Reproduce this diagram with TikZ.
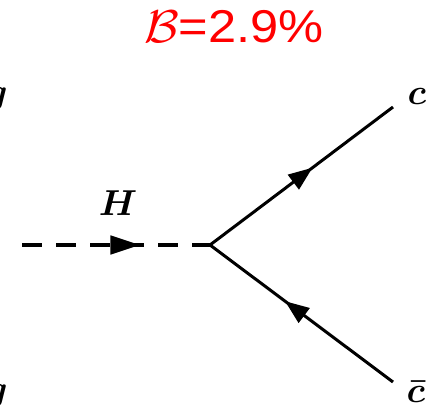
\documentclass[tikz,border=0pt]{standalone}
\usepackage{amsmath,amssymb}
\usepackage{fontspec}
\setsansfont{Liberation Sans}
\usetikzlibrary{arrows.meta, decorations.markings}

% big bold italic label
\newcommand{\biglbl}[1]{\scalebox{1.45}{$\boldsymbol{#1}$}}

\begin{document}
\begin{tikzpicture}[x=1pt, y=-1pt, line width=3pt,
  fermion/.style={decoration={markings, mark=at position #1 with {\arrow{Triangle[length=24pt, width=18pt]}}}, postaction={decorate}},
  higgs/.style={line width=4.5pt, dash pattern=on 20pt off 14pt, decoration={markings, mark=at position #1 with {\arrow{Triangle[length=30pt, width=18pt]}}}, postaction={decorate}},
  lbl/.style={font=\Huge, inner sep=0pt}]

% Frame
\useasboundingbox (0,0) rectangle (432,420);

% Title
\node[font=\sffamily\fontsize{46}{50}\selectfont, text=red, xscale=1.1] (br) at (234,27) {\scalebox{1.85}{$\mathcal{B}$}=2.9\%};

% =========== Vertex and end points ===========
\coordinate (hin) at (22,245);
\coordinate (vtx) at (210,245);
\coordinate (cq) at (393,107);
\coordinate (cqbar) at (393,382);

% Higgs line
\draw[higgs=0.63] (hin) -- (vtx);
\node[lbl] (hlbl) at (118,203) {\biglbl{H}};

% Quark c
\draw[fermion=0.56] (vtx) -- (cq);
\node[lbl] (clbl) at (417,96) {\biglbl{c}};

% Antiquark c bar
\draw[fermion=0.59] (cqbar) -- (vtx);
\node[lbl] (cbarlbl) at (416,392) {\biglbl{\bar{c}}};

% Gluons (cut at the left edge)
\node[lbl] (g1) at (-3,99) {\biglbl{g}};
\node[lbl] (g2) at (-3,396) {\biglbl{g}};

\end{tikzpicture}
\end{document}
